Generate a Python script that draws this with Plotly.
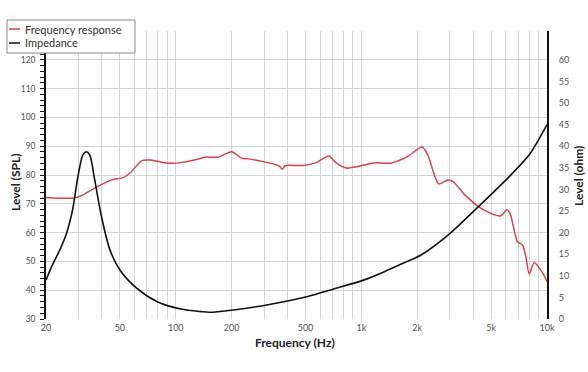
import math
import plotly.graph_objects as go

# Frequency response (SPL) readings
spl_freq = [20, 28.4, 31.6, 37.4, 45.2, 52.2, 56.9, 65.8, 73.1, 90.2, 106.6, 137, 143, 169,
            200, 227, 247, 360, 375, 388, 483, 571, 667, 735, 832, 944, 1164, 1436, 1770,
            2122, 2277, 2612, 2929, 3120, 3614, 4270, 5054, 5610, 6106, 6365, 6923, 7380,
            7694, 8023, 8538, 9480, 10000]
spl_level = [72.2, 72.0, 73.1, 75.8, 78.3, 79.1, 80.8, 85.0, 85.2, 84.1, 84.3, 85.8, 86.2, 86.2,
             88.1, 85.8, 85.6, 83.2, 82.0, 83.2, 83.3, 84.3, 86.6, 84.1, 82.4, 82.9, 84.2, 84.1, 86.4,
             89.7, 87.0, 76.9, 78.3, 77.7, 73.1, 69.0, 66.5, 65.8, 67.9, 66.1, 56.9, 55.7,
             51.6, 45.6, 49.6, 45.9, 43.0]

# Impedance readings
imp_freq = [20, 21.6, 23.5, 25.6, 27.8, 29.7, 31.6, 33, 34.4, 36.6, 39.8, 44.2, 50.1, 61.8, 79.5,
            106.6, 137, 152, 204, 304, 514, 704, 1026, 1321, 1698, 2094, 2929, 4270, 6237,
            8023, 10000]
imp_ohm = [9.0, 12.4, 15.6, 19.4, 25.2, 32.9, 38.0, 38.7, 38.0, 32.2, 23.7, 16.0, 11.3, 7.1, 4.0,
           2.3, 1.7, 1.55, 2.1, 3.2, 5.2, 6.9, 9.0, 10.9, 13.0, 14.8, 19.4, 26.0, 32.9,
           38.0, 45.0]

x_grid = [20, 30, 40, 50, 60, 70, 80, 90, 100, 200, 300, 400, 500, 600, 700, 800, 900,
          1000, 2000, 3000, 4000, 5000, 6000, 7000, 8000, 9000, 10000]
x_labels = {20: "20", 50: "50", 100: "100", 200: "200", 500: "500", 1000: "1k",
            2000: "2k", 5000: "5k", 10000: "10k"}
spl_ticks = list(range(30, 131, 10))
ohm_ticks = list(range(0, 61, 5))

RED = "#d9414b"
FONT = "Lato"
W, H = 588, 372
L, R, T, B = 46, 41, 31, 53
PW, PH = W - L - R, H - T - B


def px(x):
    return (x - L) / PW


def py(y):
    return (H - B - y) / PH


fig = go.Figure()
fig.add_trace(go.Scatter(x=spl_freq, y=spl_level, mode="lines", name="Frequency response",
                         line=dict(color=RED, width=1.5, shape="spline", smoothing=0.7),
                         showlegend=False))
fig.add_trace(go.Scatter(x=imp_freq, y=imp_ohm, mode="lines", name="Impedance", yaxis="y2",
                         line=dict(color="#111111", width=1.6, shape="spline", smoothing=0.8),
                         showlegend=False))

fig.update_layout(
    width=W, height=H,
    margin=dict(l=L, r=R, t=T, b=B, pad=0),
    paper_bgcolor="white", plot_bgcolor="white",
    font=dict(family=FONT, color="#444"),
    xaxis=dict(type="log", range=[math.log10(20), 4], tickvals=x_grid,
               ticktext=[x_labels.get(v, "") for v in x_grid], automargin=False,
               showgrid=True, gridcolor="#d6d6d6", gridwidth=1, showline=False,
               ticks="", tickfont=dict(size=9, color="#555"), zeroline=False,
               ticklabelstandoff=2),
    yaxis=dict(range=[30, 130], tickvals=spl_ticks, automargin=False,
               ticktext=[str(v) if v < 130 else "" for v in spl_ticks],
               showgrid=True, gridcolor="#d6d6d6", gridwidth=1, zeroline=False,
               showline=True, linecolor="#111", linewidth=1.5,
               ticks="outside", ticklen=4, tickcolor="#111", tickwidth=1,
               minor=dict(dtick=2, ticks="outside", ticklen=4, tickcolor="#111", showgrid=False),
               tickfont=dict(size=8.5, color="#555"), ticklabelstandoff=3),
    yaxis2=dict(overlaying="y", side="right", range=[0, 200 / 3], tickvals=ohm_ticks,
                automargin=False, showgrid=False, zeroline=False, showline=True,
                linecolor="#111", linewidth=2,
                ticks="", tickfont=dict(size=9, color="#555"), ticklabelstandoff=8),
)

# axis titles
title_font = dict(size=12, color="#222", family=FONT, weight="bold")
fig.add_annotation(xref="paper", yref="paper", x=px(295), y=py(342), text="Frequency (Hz)",
                   showarrow=False, xanchor="center", yanchor="middle", font=title_font)
fig.add_annotation(xref="paper", yref="paper", x=px(15), y=py(183), text="Level (SPL)",
                   showarrow=False, xanchor="center", yanchor="middle", textangle=-90,
                   font=title_font)
fig.add_annotation(xref="paper", yref="paper", x=px(578), y=py(176), text="Level (ohm)",
                   showarrow=False, xanchor="center", yanchor="middle", textangle=-90,
                   font=title_font)

# manual legend
fig.add_shape(type="rect", xref="paper", yref="paper", x0=px(7), x1=px(135), y0=py(53), y1=py(20),
              line=dict(color="#8a8a8a", width=1), fillcolor="white", layer="above")
fig.add_shape(type="line", xref="paper", yref="paper", x0=px(9), x1=px(20), y0=py(29), y1=py(29),
              line=dict(color=RED, width=1.5), layer="above")
fig.add_shape(type="line", xref="paper", yref="paper", x0=px(9), x1=px(20), y0=py(43), y1=py(43),
              line=dict(color="#111", width=1.5), layer="above")
for label, yy in [("Frequency response", 29), ("Impedance", 43)]:
    fig.add_annotation(xref="paper", yref="paper", x=px(23), y=py(yy), text=label,
                       showarrow=False, xanchor="left", yanchor="middle",
                       font=dict(size=11, color="#333", family=FONT))

fig.write_html("out.html", config={"displayModeBar": False},
               post_script="document.body.style.margin='0';document.body.style.overflow='hidden';")
